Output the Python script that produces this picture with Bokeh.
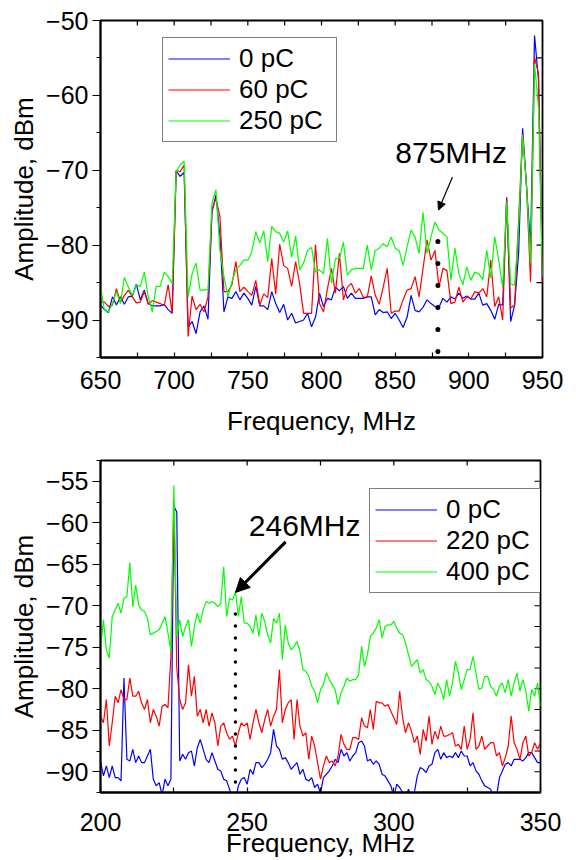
import numpy as np
from bokeh.plotting import figure
from bokeh.models import (Range1d, FixedTicker, Legend, LegendItem,
                          Label, Arrow, NormalHead)
from bokeh.layouts import column
from bokeh.embed import file_html
from bokeh.resources import INLINE

FONT = "Liberation Sans"

# ---------------- top panel data (650-950 MHz) ----------------
top_x_range = (650, 950)
top_y_range = (-95, -50)
top_x_ticks = [650, 700, 750, 800, 850, 900, 950]
top_x_minor = [675, 725, 775, 825, 875, 925]
top_y_ticks = [-90, -80, -70, -60, -50]
top_y_minor = [-95, -85, -75, -65, -55]

top_0pC = [
    -88.0, -88.6, -89.0, -86.9, -88.0, -86.9, -87.9, -86.9, -86.8, -85.2,
    -87.3, -86.0, -87.8, -88.1, -88.1, -88.1, -87.9, -88.6, -89.1, -70.1,
    -70.8, -70.3, -90.9, -90.2, -91.8, -88.9, -88.1, -89.9, -75.6, -73.3,
    -78.9, -88.9, -86.9, -87.1, -86.2, -87.3, -86.4, -87.1, -88.0, -85.5,
    -88.1, -88.1, -88.6, -86.2, -87.8, -89.0, -87.9, -90.0, -89.1, -90.4,
    -90.2, -90.0, -89.1, -90.9, -89.6, -86.4,
    -88.2, -87.1, -87.3, -85.6, -86.1, -85.5, -87.1, -86.4, -87.1, -87.1,
    -87.1, -86.9, -86.9, -89.3, -88.6, -89.0, -88.9, -89.8, -89.1, -90.0,
    -91.0, -89.6, -86.7, -88.7, -88.9, -88.3, -87.3, -87.8, -88.2, -88.3,
    -87.1, -87.6, -86.9, -87.2, -86.4, -87.1, -86.8, -87.2, -87.2, -86.4,
    -88.0, -87.8, -88.7, -89.9, -87.9, -88.0, -73.6, -90.2, -88.0, -81.1,
    -64.4, -72.2, -80.2, -52.0, -58.0, -84.7]
top_60pC = [
    -87.6, -87.6, -88.2, -88.0, -85.8, -87.6, -86.7, -86.0, -86.9, -87.7,
    -87.6, -86.2, -87.9, -87.4, -87.6, -87.8, -88.1, -85.3, -89.1, -70.0,
    -70.2, -69.3, -92.2, -86.8, -88.6, -87.9, -88.9, -86.9, -75.1, -73.8,
    -76.2, -86.2, -86.2, -85.3, -82.2, -86.2, -85.6, -86.2, -86.7, -84.7,
    -88.0, -86.5, -87.0, -81.8, -86.5, -79.9, -82.7, -83.1, -85.5, -82.2,
    -85.1, -89.1, -89.1, -89.1, -79.9, -87.8,
    -88.9, -85.8, -83.1, -86.4, -81.1, -87.3, -85.6, -85.1, -86.4, -85.8,
    -87.0, -86.9, -84.1, -86.7, -87.9, -85.6, -83.1, -89.1, -88.8, -88.8,
    -87.3, -86.0, -85.8, -84.2, -86.9, -83.1, -79.3, -82.0, -80.7, -85.6,
    -83.1, -83.4, -87.8, -87.6, -85.6, -87.6, -86.9, -87.2, -86.2, -86.4,
    -85.8, -86.9, -82.0, -88.2, -86.9, -90.0, -73.8, -88.4, -88.0, -76.7,
    -65.1, -72.2, -84.9, -54.9, -57.1, -85.1]
top_250pC = [
    -85.6, -88.7, -88.9, -87.8, -86.2, -87.8, -84.3, -85.6, -86.7, -85.3,
    -85.5, -83.6, -86.9, -88.9, -85.5, -85.5, -83.6, -84.2, -85.1, -70.2,
    -69.3, -68.8, -86.9, -83.8, -82.4, -86.0, -86.0, -85.9, -74.4, -72.6,
    -80.7, -84.2, -86.9, -84.9, -83.3, -82.7, -82.0, -82.0, -80.9, -78.2,
    -79.7, -78.1, -82.2, -77.5, -78.2, -78.4, -79.6, -78.1, -81.6, -78.8,
    -83.3, -82.4, -80.7, -80.3, -83.6, -83.3,
    -83.8, -79.1, -85.1, -81.8, -81.8, -79.6, -84.0, -83.3, -83.1, -83.1,
    -83.1, -80.0, -83.3, -80.7, -80.4, -79.8, -80.2, -78.9, -80.4, -80.7,
    -82.7, -80.2, -78.0, -78.9, -81.1, -75.6, -81.1, -78.9, -76.9, -78.0,
    -78.4, -78.9, -84.7, -80.4, -83.8, -85.3, -82.9, -84.7, -83.6, -83.8,
    -84.6, -80.7, -84.4, -78.9, -82.0, -85.6, -74.2, -85.2, -85.3, -77.6,
    -65.3, -72.2, -82.4, -55.8, -61.6, -84.2]
top_freq = np.linspace(650, 950, len(top_0pC))
top_labels = ["0 pC", "60 pC", "250 pC"]

# ---------------- bottom panel data (200-350 MHz) ----------------
bot_x_range = (200, 350)
bot_y_range = (-92.5, -52.5)
bot_x_ticks = [200, 250, 300, 350]
bot_x_minor = [225, 275, 325]
bot_y_ticks = [-90, -85, -80, -75, -70, -65, -60, -55]
bot_y_minor = [-92.5, -87.5, -82.5, -77.5, -72.5, -67.5, -62.5, -57.5, -52.5]

bot_400pC = [
    -75.3, -71.7, -75.3, -76.3, -71.3, -70.5, -69.7, -70.9, -69.1, -68.9,
    -64.8, -70.1, -67.5, -69.9, -70.5, -70.7, -71.5, -73.5, -73.3, -73.1,
    -72.9, -72.1, -71.3, -73.3, -75.5, -55.5, -73.7, -71.7, -73.7, -72.5,
    -71.7, -74.9, -72.5, -70.9, -72.1, -70.5, -69.5, -69.7, -69.5, -69.7,
    -70.1, -69.7, -65.3, -71.3, -69.1, -69.3, -68.3, -71.3, -68.9, -72.1,
    -72.1, -72.5, -73.3, -71.1, -73.7, -70.9, -71.9, -73.5, -74.5, -71.5,
    -72.1, -70.9, -76.5, -72.3, -74.5, -75.3, -74.9, -74.3, -75.5, -77.7,
    -77.9, -78.5, -79.7, -80.3, -81.7, -80.1, -79.5, -78.1, -78.9, -79.5,
    -80.1, -81.9, -80.5, -79.7, -78.7, -79.1, -78.9, -78.9, -78.3, -74.9,
    -77.3, -75.9, -73.7, -73.3, -72.7, -71.7, -73.9, -72.5, -72.3, -72.3,
    -71.9, -72.7, -73.3, -73.5, -74.5, -75.9, -77.3, -76.9, -76.5, -78.1,
    -77.7, -78.9, -79.1, -79.7, -80.7, -79.3, -80.1, -81.3, -78.9, -80.9,
    -79.3, -76.7, -78.1, -80.1, -78.9, -77.7, -77.7, -76.1, -78.1, -80.1,
    -79.9, -78.5, -78.5, -79.7, -80.1, -80.9, -79.7, -79.3, -80.5, -78.9,
    -80.9, -79.3, -78.1, -80.3, -78.9, -80.3, -82.7, -80.1, -80.9, -79.3,
    -82.1]
bot_220pC = [
    -83.3, -84.1, -81.3, -86.9, -84.1, -80.9, -81.7, -80.1, -81.3, -81.3,
    -78.7, -80.9, -80.9, -80.3, -81.7, -82.5, -81.3, -84.1, -82.5, -83.3,
    -84.5, -82.1, -81.9, -82.3, -76.1, -57.3, -77.5, -81.3, -82.5, -81.7,
    -77.1, -80.9, -78.5, -83.3, -82.5, -84.1, -82.5, -84.5, -82.9, -84.1,
    -86.9, -84.5, -84.1, -85.3, -86.1, -85.7, -86.9, -85.3, -84.1, -84.5,
    -84.1, -86.1, -84.1, -82.5, -84.1, -85.3, -83.7, -82.5, -84.5, -83.3,
    -82.5, -77.7, -84.1, -82.5, -81.7, -81.3, -86.1, -81.3, -84.5, -85.7,
    -85.3, -88.5, -85.7, -86.9, -88.9, -90.9, -89.3, -88.1, -88.9, -88.7,
    -89.3, -88.1, -85.5, -86.7, -87.3, -87.3, -85.9, -85.9, -86.1, -83.5,
    -84.5, -84.7, -82.5, -84.9, -81.5, -81.7, -81.7, -82.1, -81.9, -82.7,
    -83.5, -84.3, -80.3, -83.5, -85.3, -84.1, -85.1, -86.5, -85.7, -87.9,
    -84.9, -86.3, -83.3, -86.7, -85.1, -86.1, -84.5, -85.7, -85.7, -85.5,
    -85.3, -86.9, -86.7, -87.3, -84.5, -87.3, -86.1, -82.9, -87.3, -86.9,
    -85.7, -87.3, -86.9, -86.5, -86.5, -88.1, -87.7, -89.3, -88.3, -86.9,
    -83.3, -86.5, -87.3, -88.5, -86.5, -85.7, -88.1, -87.7, -86.5, -87.3,
    -86.5]
bot_0pC = [
    -88.7, -90.5, -89.3, -90.7, -89.3, -90.7, -90.7, -91.1, -78.7, -88.5,
    -88.7, -87.3, -88.9, -88.1, -88.9, -88.9, -88.1, -87.3, -90.9, -91.7,
    -91.3, -92.8, -90.9, -91.7, -90.9, -58.0, -58.7, -88.7, -87.9, -88.5,
    -87.7, -87.5, -89.3, -87.1, -86.1, -87.3, -88.5, -88.9, -87.7, -88.7,
    -89.7, -89.9, -90.9, -91.1, -92.1, -93.2, -93.5, -91.7, -90.9, -90.7,
    -91.5, -89.7, -90.3, -88.9, -88.9, -89.5, -89.1, -88.5, -87.7, -84.9,
    -86.9, -87.3, -88.5, -88.3, -88.9, -89.7, -89.3, -88.9, -90.3, -89.7,
    -90.9, -91.1, -90.7, -91.9, -91.5, -92.6, -90.7, -90.3, -89.9, -89.3,
    -88.5, -88.9, -87.3, -88.1, -87.7, -88.7, -88.1, -87.7, -86.5, -86.3,
    -86.9, -88.7, -88.5, -89.1, -88.7, -89.1, -90.3, -90.5, -91.1, -91.7,
    -93.0, -91.5, -91.9, -92.5, -93.2, -92.1, -93.0, -92.5, -90.5, -89.5,
    -89.7, -90.1, -89.3, -89.1, -87.7, -87.3, -88.5, -87.7, -88.3, -88.1,
    -88.3, -87.7, -88.3, -87.5, -88.1, -88.1, -89.3, -88.9, -89.9, -90.3,
    -91.1, -91.7, -91.9, -92.1, -93.2, -93.0, -90.7, -89.9, -89.1, -88.9,
    -89.3, -88.5, -88.5, -88.5, -88.7, -88.3, -87.7, -87.7, -88.3, -88.9,
    -88.9]
bot_freq = np.linspace(200, 350, len(bot_0pC))
bot_labels = ["0 pC", "220 pC", "400 pC"]

COLORS = ["#0000ff", "#ff0000", "#00ff00"]

# annotation anchors (data units)
top_note = dict(text="875MHz", x=888.0, y=-67.6)
top_arrow = dict(x_start=888.9, y_start=-70.9, x_end=879.4, y_end=-75.3)
top_marker = dict(x=879.0, y_start=-94.2, y_end=-76.6)
bot_note = dict(text="246MHz", x=269.6, y=-60.3)
bot_arrow = dict(x_start=263.1, y_start=-62.3, x_end=246.0, y_end=-68.4)
bot_marker = dict(x=246.0, y_start=-71.0, y_end=-93.0)

LEFT = 100
RIGHT = 30
FRAME_LW = 1.8


def style_main_axes(p, xt, xm, yt, ym, xlab_standoff, xaxis_label_standoff):
    xa = p.below[0]
    ya = p.left[0]
    xa.ticker = FixedTicker(ticks=xt, minor_ticks=xm)
    ya.ticker = FixedTicker(ticks=yt, minor_ticks=ym)
    for ax in (xa, ya):
        ax.axis_line_color = "black"
        ax.axis_line_width = FRAME_LW
        ax.major_tick_line_color = "black"
        ax.minor_tick_line_color = "black"
        ax.major_tick_line_width = 1.2
        ax.minor_tick_line_width = 1.2
        ax.major_label_text_font = FONT
        ax.major_label_text_font_size = "25px"
        ax.major_label_text_color = "black"
        ax.axis_label_text_font = FONT
        ax.axis_label_text_font_size = "26px"
        ax.axis_label_text_font_style = "normal"
        ax.axis_label_text_color = "black"
    xa.major_tick_in = 5
    xa.major_tick_out = 0
    xa.minor_tick_in = 5
    xa.minor_tick_out = 0
    xa.major_label_standoff = xlab_standoff
    xa.axis_label_standoff = xaxis_label_standoff
    xa.axis_label = "Frequency, MHz"
    ya.major_tick_in = 0
    ya.major_tick_out = 8
    ya.minor_tick_in = 0
    ya.minor_tick_out = 4
    ya.major_label_standoff = 4
    ya.axis_label_standoff = 4
    ya.axis_label = "Amplitude, dBm"


def add_mirror_ticks(p, xr, yr, xt, xm, yt, ym, frame_w, frame_h):
    # inward ticks on the top and right edges, placed from the tick lists
    top_len = 5.0 * (yr[1] - yr[0]) / frame_h
    right_len = 6.0 * (xr[1] - xr[0]) / frame_w
    xs = list(xt) + list(xm)
    ys = list(yt) + list(ym)
    p.segment(x0=xs, y0=[yr[1]] * len(xs), x1=xs, y1=[yr[1] - top_len] * len(xs),
              line_color="black", line_width=1.2)
    p.segment(x0=[xr[1]] * len(ys), y0=ys, x1=[xr[1] - right_len] * len(ys), y1=ys,
              line_color="black", line_width=1.2)


def make_panel(freq, series, labels, xr, yr, xt, xm, yt, ym, frame_w, frame_h,
               b_top, b_bottom, xlab_standoff, xaxis_label_standoff,
               legend_loc, note, arrow, marker, arrow_width, head_size,
               dot_width, dot_dash, note_size):
    p = figure(width=LEFT + frame_w + RIGHT, height=b_top + frame_h + b_bottom,
               x_range=Range1d(*xr), y_range=Range1d(*yr),
               output_backend="svg", toolbar_location=None,
               min_border_left=LEFT, min_border_right=RIGHT,
               min_border_top=b_top, min_border_bottom=b_bottom)
    p.xgrid.visible = False
    p.ygrid.visible = False
    p.outline_line_color = "black"
    p.outline_line_width = FRAME_LW
    p.background_fill_color = "white"
    p.border_fill_color = "white"

    style_main_axes(p, xt, xm, yt, ym, xlab_standoff, xaxis_label_standoff)
    add_mirror_ticks(p, xr, yr, xt, xm, yt, ym, frame_w, frame_h)

    renderers = []
    for vals, col in zip(series, COLORS):
        r = p.line(freq, vals, line_color=col, line_width=1.2)
        renderers.append(r)

    # dotted marker line
    p.segment(x0=[marker["x"]], y0=[marker["y_start"]],
              x1=[marker["x"]], y1=[marker["y_end"]],
              line_color="black", line_width=dot_width, line_dash=dot_dash,
              line_cap="round")

    p.add_layout(Arrow(end=NormalHead(size=head_size, fill_color="black",
                                      line_color="black", line_width=1),
                       line_color="black", line_width=arrow_width, **arrow))
    p.add_layout(Label(x=note["x"], y=note["y"], text=note["text"],
                       text_align="center", text_baseline="middle",
                       text_font=FONT, text_font_size=note_size,
                       text_color="black"))

    items = [LegendItem(label=lab, renderers=[r]) for lab, r in zip(labels, renderers)]
    leg = Legend(items=items, location=legend_loc, margin=0, padding=5,
                 spacing=0, glyph_width=62, glyph_height=31, label_height=31,
                 label_width=92, label_standoff=9,
                 label_text_font=FONT, label_text_font_size="26px",
                 label_text_color="black",
                 border_line_color="black", border_line_width=1.2,
                 background_fill_color="white", background_fill_alpha=1.0)
    p.add_layout(leg)
    return p


p1 = make_panel(top_freq, [top_0pC, top_60pC, top_250pC], top_labels,
                top_x_range, top_y_range, top_x_ticks, top_x_minor,
                top_y_ticks, top_y_minor, 442, 337, 20, 86, 13, 14,
                (62, 215), top_note, top_arrow, top_marker, 1.2, 8,
                5, "0 22", "30px")
p2 = make_panel(bot_freq, [bot_0pC, bot_220pC, bot_400pC], bot_labels,
                bot_x_range, bot_y_range, bot_x_ticks, bot_x_minor,
                bot_y_ticks, bot_y_minor, 440, 335, 17, 65, 20, -6,
                (269, 199), bot_note, bot_arrow, bot_marker, 3, 14,
                3.5, "0 12", "30px")

layout = column(p1, p2, spacing=0)
open("out.html", "w").write(file_html(layout, INLINE))
